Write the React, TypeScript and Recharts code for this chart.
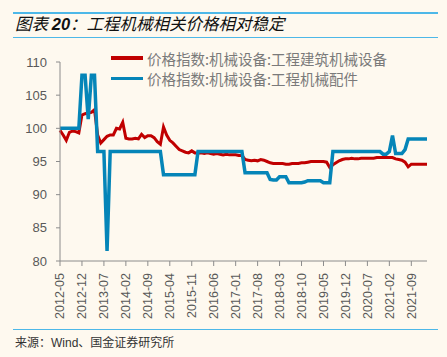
import { LineChart, Line, XAxis, YAxis } from 'recharts';

// monthly categories 2012-05 .. 2022-02
const months: string[] = [];
for (let i = 0; i < 118; i++) {
  const m = 4 + i;
  const y = 2012 + Math.floor(m / 12);
  months.push(`${y}-${String((m % 12) + 1).padStart(2, '0')}`);
}

// 价格指数:机械设备:工程建筑机械设备
const constructionMachinery = [
  99.7, 99.0, 98.2, 99.4, 99.6, 99.5, 99.3, 102.0, 102.2, 102.3,
  102.4, 102.8, 99.0, 97.8, 98.3, 98.8, 99.0, 99.0, 100.0, 99.9,
  100.9, 98.5, 98.4, 98.4, 98.5, 98.4, 99.1, 98.6, 98.9, 98.9,
  98.6, 98.0, 97.6, 100.2, 99.0, 98.2, 97.8, 97.3, 96.8, 96.6,
  96.4, 96.3, 96.6, 96.3, 96.3, 96.3, 96.2, 96.3, 96.2, 96.1,
  96.2, 96.1, 96.0, 96.1, 96.0, 96.0, 96.0, 95.9, 95.9, 95.3,
  95.2, 95.1, 95.2, 95.1, 95.3, 95.2, 95.0, 94.8, 94.7, 94.7,
  94.7, 94.7, 94.6, 94.6, 94.7, 94.7, 94.7, 94.8, 94.8, 94.9,
  95.0, 95.0, 95.0, 95.0, 95.0, 94.9, 94.1, 94.5, 94.8, 95.1,
  95.3, 95.4, 95.4, 95.5, 95.4, 95.4, 95.5, 95.5, 95.5, 95.5,
  95.5, 95.6, 95.6, 95.6, 95.6, 95.6, 95.6, 95.4, 95.3, 95.2,
  94.9, 94.2, 94.6, 94.6, 94.6, 94.6, 94.6, 94.6,
];

// 价格指数:机械设备:工程机械配件
const machineryParts = [
  100, 100, 100, 100, 100, 100, 100, 108, 108, 101.4,
  108, 108, 96.5, 96.5, 96.5, 81.5, 96.5, 96.5, 96.5, 96.5,
  96.5, 96.5, 96.5, 96.5, 96.5, 96.5, 96.5, 96.5, 96.5, 96.5,
  96.5, 96.5, 96.5, 93, 93, 93, 93, 93, 93, 93,
  93, 93, 93, 93, 96.5, 96.5, 96.5, 96.5, 96.5, 96.5,
  96.5, 96.5, 96.5, 96.5, 96.5, 96.5, 96.5, 96.5, 96.5, 93.3,
  93.3, 93.3, 93.3, 93.3, 93.3, 93.3, 93.3, 92.3, 92.2, 92.2,
  92.7, 92.7, 92.7, 91.8, 91.8, 91.8, 91.8, 91.8, 91.9, 92.1,
  92.1, 92.1, 92.1, 92.1, 91.8, 91.8, 91.8, 96.5, 96.5, 96.5,
  96.5, 96.5, 96.5, 96.5, 96.5, 96.5, 96.5, 96.5, 96.5, 96.5,
  96.5, 96.5, 96.5, 96.1, 96.1, 96.5, 98.9, 96.2, 96.2, 96.2,
  96.8, 98.4, 98.4, 98.4, 98.4, 98.4, 98.4, 98.4,
];

const yTicks = [80, 85, 90, 95, 100, 105, 110];

const seriesNames = ['价格指数:机械设备:工程建筑机械设备', '价格指数:机械设备:工程机械配件'];
const seriesColors = ['#c00000', '#0585b8'];

const data = months.map((m, i) => ({
  month: m,
  construction: constructionMachinery[i],
  parts: machineryParts[i],
}));

const rule = '#4db8e8';
const cjk = '"Noto Sans CJK SC", sans-serif';

function MonthTick(props: any) {
  const { x, y, payload } = props;
  return (
    <g transform={`translate(${x},${y})`}>
      <text
        transform="rotate(-90)"
        x={-5}
        dy="0.35em"
        textAnchor="end"
        fill="#595959"
        fontSize={12.5}
        fontFamily="Liberation Sans, Arial, sans-serif"
      >
        {payload.value}
      </text>
    </g>
  );
}

export default function App() {
  return (
    <div style={{ position: 'absolute', left: 0, top: 0, width: 447, height: 357, background: '#fef9ef', overflow: 'hidden' }}>
      {/* header rules + title */}
      <div style={{ position: 'absolute', left: 13, top: 12, width: 425, height: 1.5, background: rule }} />
      <div style={{
        position: 'absolute', left: 15, top: 14, lineHeight: '18px', fontSize: 16.5,
        fontFamily: cjk, fontStyle: 'italic', color: '#111', whiteSpace: 'nowrap',
      }}>
        图表 <span style={{ fontFamily: 'Liberation Sans, Arial', fontWeight: 'bold' }}>20</span>：工程机械相关价格相对稳定
      </div>
      <div style={{ position: 'absolute', left: 13, top: 36.5, width: 425, height: 1.5, background: rule }} />

      <div style={{ position: 'absolute', left: 0, top: 0 }}>
        <LineChart width={447} height={357} data={data} margin={{ top: 62, right: 20, bottom: 36, left: 0 }}>
          <XAxis
            dataKey="month"
            interval={6}
            tickSize={5}
            tickMargin={2}
            height={60}
            stroke="#8c8c8c"
            tick={<MonthTick />}
          />
          <YAxis
            domain={[80, 110]}
            ticks={yTicks}
            width={60}
            tickSize={4}
            tickMargin={9}
            stroke="#8c8c8c"
            tick={{ fill: '#595959', fontSize: 13, fontFamily: 'Liberation Sans, Arial, sans-serif' }}
          />
          <Line type="linear" dataKey="construction" stroke={seriesColors[0]} strokeWidth={3} dot={false} isAnimationActive={false} />
          <Line type="linear" dataKey="parts" stroke={seriesColors[1]} strokeWidth={3.5} dot={false} isAnimationActive={false} />
        </LineChart>
      </div>

      {/* legend */}
      {seriesNames.map((name, i) => (
        <div key={name} style={{ position: 'absolute', left: 111, top: 48 + i * 20.5, height: 20, display: 'flex', alignItems: 'center' }}>
          <div style={{ width: 32, height: 3.5, background: seriesColors[i] }} />
          <span style={{ marginLeft: 4, fontSize: 14.5, fontFamily: cjk, color: '#7a7a7a', whiteSpace: 'nowrap' }}>{name}</span>
        </div>
      ))}

      {/* footer */}
      <div style={{ position: 'absolute', left: 13, top: 328.5, width: 425, height: 1.5, background: rule }} />
      <div style={{ position: 'absolute', left: 15, top: 334, lineHeight: '16px', fontSize: 12, fontFamily: cjk, color: '#333', whiteSpace: 'nowrap' }}>
        来源：<span style={{ fontFamily: 'Liberation Sans, Arial' }}>Wind</span>、国金证券研究所
      </div>
    </div>
  );
}
